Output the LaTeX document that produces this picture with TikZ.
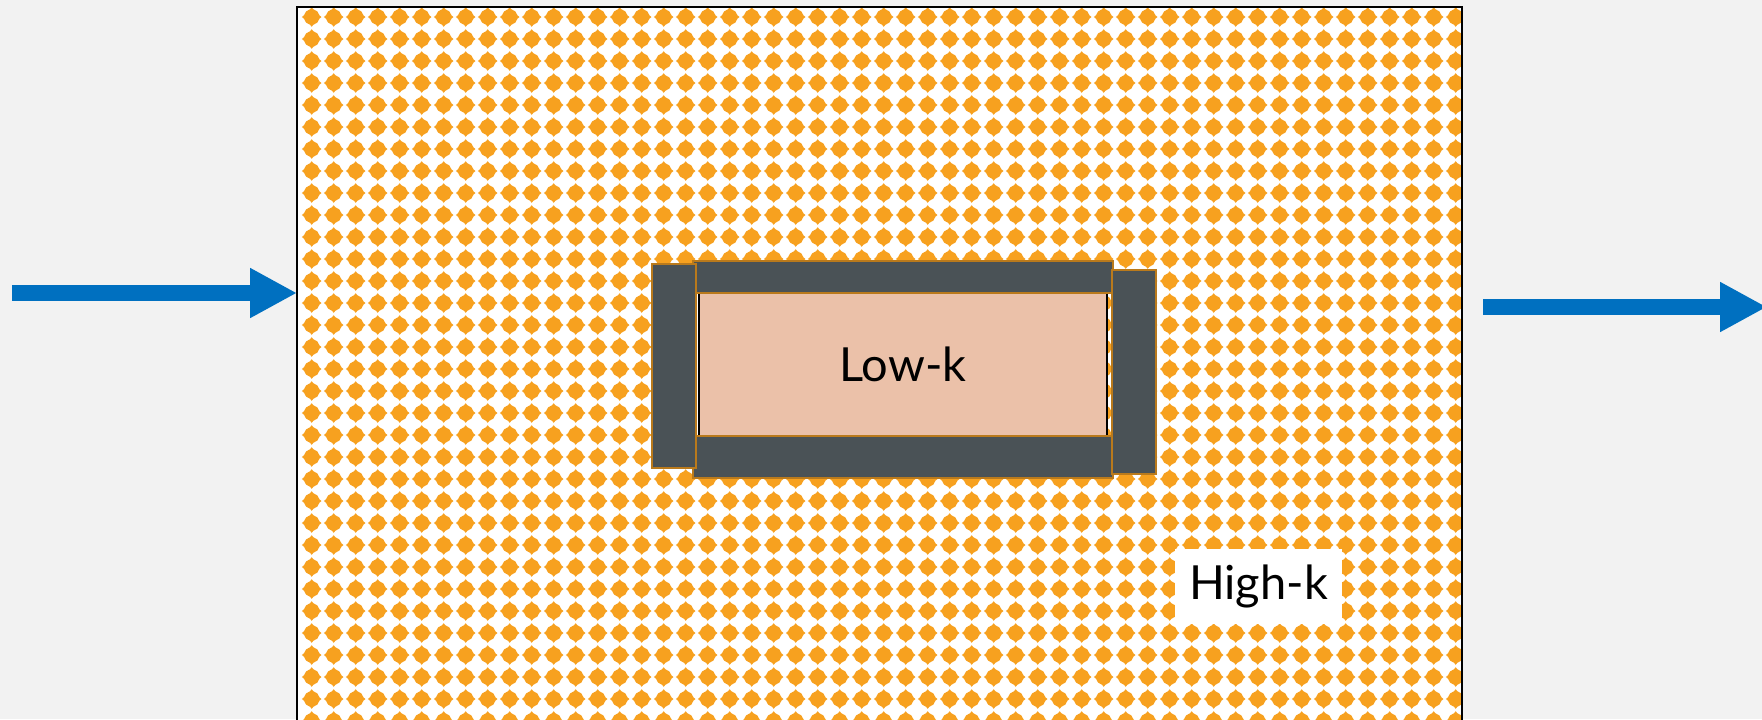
\documentclass[tikz,border=0pt]{standalone}
\usepackage{fontspec}
\setmainfont{Lato}
\usetikzlibrary{arrows.meta}
\definecolor{bg}{HTML}{F2F2F2}
\definecolor{dia}{HTML}{F7A11F}
\definecolor{barfill}{HTML}{4A5256}
\definecolor{barline}{HTML}{BA7A1C}
\definecolor{lowkfill}{HTML}{EBC1A9}
\definecolor{arrowblue}{HTML}{0070C0}
\begin{document}
\begin{tikzpicture}[x=0.5pt,y=-0.5pt,
  barbox/.style={fill=barfill,draw=barline,line width=1pt,inner sep=0pt},
  lowkbox/.style={fill=lowkfill,draw=black,line width=0.9pt,inner sep=0pt,font=\fontsize{23.5}{28}\selectfont},
  labelbox/.style={fill=white,inner sep=0pt,font=\fontsize{23.5}{28}\selectfont},
  flowarrow/.style={draw=arrowblue,line width=8pt,-{Triangle[length=23.5pt,width=23.5pt]}}]
\useasboundingbox (0,0) rectangle (1762,719);
\fill[bg] (0,0) rectangle (1762,719);
\begin{scope}
  \clip (297,7) rectangle (1462,730);
  \fill[white] (297,7) rectangle (1462,730);
  \foreach \i in {0,...,52} {
    \foreach \j in {0,...,32} {
      \fill[dia] ({311.7+22*\i},{17+22*\j}) +(9.8,0) -- +(7.8,-1.6) -- +(5.6,-5.6) -- +(1.6,-7.8) -- +(0,-9.8) -- +(-1.6,-7.8) -- +(-5.6,-5.6) -- +(-7.8,-1.6) -- +(-9.8,0) -- +(-7.8,1.6) -- +(-5.6,5.6) -- +(-1.6,7.8) -- +(0,9.8) -- +(1.6,7.8) -- +(5.6,5.6) -- +(7.8,1.6) -- cycle;
    }
  }
\end{scope}
\draw[black,line width=1.25pt] (297,730) -- (297,7) -- (1462,7) -- (1462,730);
% central structure
\node[lowkbox,minimum width=204pt,minimum height=71.5pt] (lowk) at (903,364.5) {Low-k};
\node[barbox,minimum width=210pt,minimum height=16pt] (topbar) at (903,277) {};
\node[barbox,minimum width=210pt,minimum height=21pt] (botbar) at (903,457) {};
\node[barbox,minimum width=22pt,minimum height=102pt] (leftbar) at (674,366) {};
\node[barbox,minimum width=22pt,minimum height=102pt] (rightbar) at (1134,372) {};
% label
\node[labelbox,minimum width=83.5pt,minimum height=37.5pt] (highk) at (1258.5,586.5) {High-k};
% arrows
\coordinate (inA) at (12,293);
\coordinate (inB) at (297,293);
\coordinate (outA) at (1483,307);
\coordinate (outB) at (1767,307);
\draw[flowarrow] (inA) -- (inB);
\draw[flowarrow] (outA) -- (outB);
\end{tikzpicture}
\end{document}
